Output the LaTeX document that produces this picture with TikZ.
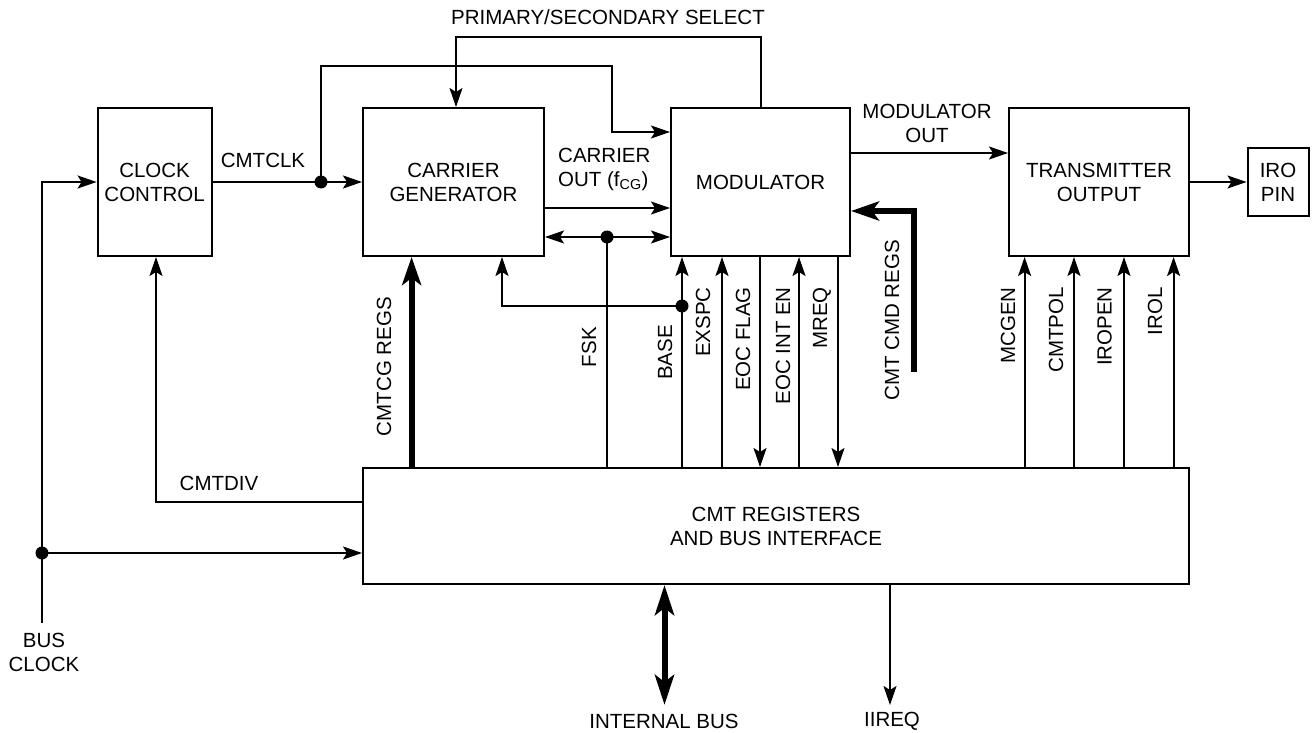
\documentclass[tikz,border=0pt]{standalone}
\usepackage{fontspec}
\setmainfont{Liberation Sans}
\usetikzlibrary{arrows.meta,calc}
\begin{document}
\begin{tikzpicture}[x=1pt,y=-1pt,
  every node/.style={font=\fontsize{20.5}{24}\selectfont},
  blk/.style={draw,line width=2pt,inner sep=0pt,align=center},
  wire/.style={line width=2pt},
  tip/.style={},
  arr/.style={wire,-{Stealth[length=19pt,width=13pt,inset=4pt]}},
  darr/.style={wire,{Stealth[length=19pt,width=13pt,inset=4pt]}-{Stealth[length=19pt,width=13pt,inset=4pt]}},
  bus/.style={line width=6pt,-{Stealth[length=28pt,width=19pt,inset=7pt]}},
  dbus/.style={line width=6pt,{Stealth[length=30pt,width=19pt,inset=7pt]}-{Stealth[length=30pt,width=19pt,inset=7pt]}},
  dot/.style={circle,fill,inner sep=0pt,minimum size=13pt},
  vlab/.style={rotate=90,anchor=east,inner sep=0pt},
  lab/.style={inner sep=0pt,align=center}]
\useasboundingbox (0,0) rectangle (1315,733);

% blocks
\node[blk,minimum width=114pt,minimum height=148pt] (clk) at (154.6,182) {CLOCK\\CONTROL};
\node[blk,minimum width=181pt,minimum height=148pt] (cg) at (453.5,182) {CARRIER\\GENERATOR};
\node[blk,minimum width=179pt,minimum height=148pt] (mod) at (760.5,182) {MODULATOR};
\node[blk,minimum width=180pt,minimum height=148pt] (tx) at (1099,182) {TRANSMITTER\\OUTPUT};
\node[blk,minimum width=61pt,minimum height=68pt] (iro) at (1278,182) {IRO\\PIN};
\node[blk,minimum width=826pt,minimum height=116pt] (cmt) at (776,526) {CMT REGISTERS\\AND BUS INTERFACE};

% coordinates
\coordinate (busclk) at (42,623);
\coordinate (bcdot) at (42,553);
\coordinate (clkdot) at (321,182);
\coordinate (fskdot) at (607,237);
\coordinate (basedot) at (682,306);
\coordinate (ibus) at (664.5,705);
\coordinate (iireq) at (890,705);
\coordinate (cmdtop) at (914,372);

% bus clock
\draw[arr] (busclk) -- (42,182) -- (clk.west);
\draw[arr] (bcdot) -- (cmt.west |- bcdot);
\node[dot] at (bcdot) {};
\node[lab] at (44,652) {BUS\\CLOCK};

% CMTCLK
\draw[arr] (clk.east) -- (cg.west);
\draw[arr] (clkdot) -- (321,66) -- (611.5,66) -- (611.5,132) -- (mod.west |- 0,132);
\node[dot] at (clkdot) {};
\node[lab] at (263,160) {CMTCLK};

% primary/secondary select
\draw[arr] (mod.north) -- (760.5,37) -- (456,37) -- (cg.north -| 456,0);
\node[lab] at (608,17) {PRIMARY/SECONDARY SELECT};

% carrier out
\draw[arr] (cg.east |- 0,208) -- (mod.west |- 0,208);
\node[lab,anchor=west,align=left] at (558,169) {CARRIER\\OUT (f\textsubscript{CG})};
\draw[darr] (cg.east |- fskdot) -- (mod.west |- fskdot);
\draw[wire] (fskdot) -- (fskdot |- cmt.north);
\node[dot] at (fskdot) {};
\node[vlab] at (589,327) {FSK};

% BASE
\draw[arr] (basedot |- cmt.north) -- (mod.south -| basedot);
\draw[arr] (basedot) -- (502,306) -- (cg.south -| 502,0);
\node[dot] at (basedot) {};
\node[vlab] at (665,325) {BASE};

% modulator signals
\draw[arr] (cmt.north -| 722,0) -- (mod.south -| 722,0);
\node[vlab] at (703,287) {EXSPC};
\draw[arr] (mod.south -| 760,0) -- (cmt.north -| 760,0);
\node[vlab] at (743,287) {EOC FLAG};
\draw[arr] (cmt.north -| 799,0) -- (mod.south -| 799,0);
\node[vlab] at (783,287) {EOC INT EN};
\draw[arr] (mod.south -| 838,0) -- (cmt.north -| 838,0);
\node[vlab] at (822,287) {MREQ};

% CMT CMD REGS
\draw[bus,line join=miter] (cmdtop) -- (914,211) -- (mod.east |- 0,211);
\node[vlab] at (892,240) {CMT CMD REGS};

% CMTCG REGS
\draw[bus] (cmt.north -| 411.6,0) -- (cg.south -| 411.6,0);
\node[vlab] at (384,297) {CMTCG REGS};

% CMTDIV
\draw[arr] (cmt.west |- 0,502) -- (156,502) -- (clk.south -| 156,0);
\node[lab] at (219,483) {CMTDIV};

% modulator out
\draw[arr] (mod.east |- 0,153) -- (tx.west |- 0,153);
\node[lab] at (927,123) {MODULATOR\\OUT};
\draw[arr] (tx.east) -- (iro.west);

% transmitter signals
\draw[arr] (cmt.north -| 1024.6,0) -- (tx.south -| 1024.6,0);
\node[vlab] at (1008,287) {MCGEN};
\draw[arr] (cmt.north -| 1074,0) -- (tx.south -| 1074,0);
\node[vlab] at (1056,287) {CMTPOL};
\draw[arr] (cmt.north -| 1124,0) -- (tx.south -| 1124,0);
\node[vlab] at (1104.5,287) {IROPEN};
\draw[arr] (cmt.north -| 1173.6,0) -- (tx.south -| 1173.6,0);
\node[vlab] at (1155,287) {IROL};

% bottom
\draw[dbus] (cmt.south -| ibus) -- (ibus);
\node[lab] at (664,721) {INTERNAL BUS};
\draw[arr] (cmt.south -| iireq) -- (iireq);
\node[lab] at (892,721) {IIREQ};
\end{tikzpicture}
\end{document}
